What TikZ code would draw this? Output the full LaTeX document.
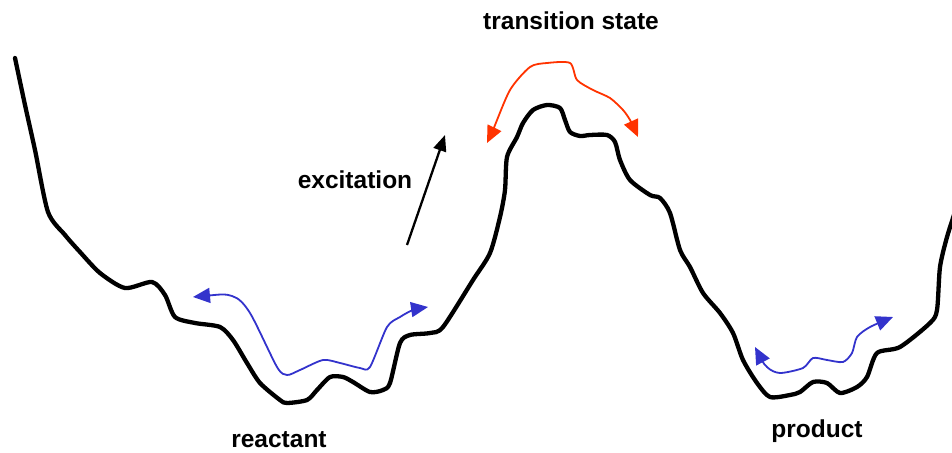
\documentclass[tikz,border=0pt]{standalone}
\usepackage{fontspec}
\setmainfont{Liberation Sans}
\usetikzlibrary{arrows.meta}
\definecolor{pathblue}{RGB}{51,51,204}
\definecolor{tsred}{RGB}{255,51,0}
\tikzset{
  surface/.style={line width=4.3pt, line join=round, line cap=round, black},
  motion/.style={line width=2pt, line join=round, {Triangle[length=17pt,width=15pt]}-{Triangle[length=17pt,width=15pt]}},
  label/.style={font=\fontsize{24.5pt}{28pt}\selectfont\bfseries, inner sep=0pt},
}
\begin{document}
\begin{tikzpicture}[x=1pt,y=-1pt]
\useasboundingbox (0,0) rectangle (952,452);
\clip (0,0) rectangle (952,452);
% potential energy surface
\draw[surface] plot[smooth, tension=0.45] coordinates {
  (15,58) (25,105) (35,150) (48,212) (65,235) (80,252) (100,273) (125,288)
  (152,282) (165,295) (175,317) (195,323) (220,327) (233,340) (247,363)
  (260,383) (280,400) (287,403) (307,400) (317,390) (330,377) (343,377)
  (353,382) (370,392) (383,390) (390,383) (400,343) (410,335) (430,333)
  (443,327) (473,280) (490,253) (500,217) (505,190) (507,157) (517,137)
  (523,123) (533,110) (547,105) (560,108) (565,120) (570,132) (580,136)
  (590,135) (607,135) (615,142) (620,160) (630,180) (650,195) (660,198)
  (670,213) (680,250) (690,267) (703,293) (720,313) (733,333) (743,360)
  (757,383) (770,397) (790,395) (800,392) (813,382) (827,383) (840,393)
  (857,387) (867,377) (877,353) (900,347) (930,323) (937,310) (940,267)
  (947,237) (955,212)};
% vibration in the reactant well
\draw[motion, pathblue, line width=1.8pt] plot[smooth, tension=0.45] coordinates {
  (193,297) (232,296) (250,313) (277,367) (287,375) (300,370) (323,360)
  (340,363) (360,368) (370,367) (387,327) (400,317) (413,310) (428,307)};
% vibration in the product well
\draw[motion, pathblue, line width=1.8pt] plot[smooth, tension=0.45] coordinates {
  (755,347) (767,367) (780,373) (803,368) (813,358) (827,360) (843,362)
  (852,353) (857,337) (870,327) (893,317)};
% motion across the barrier top
\draw[motion, tsred, line width=1.8pt] plot[smooth, tension=0.45] coordinates {
  (487,143) (493,130) (510,90) (530,67) (547,63) (570,63) (577,80)
  (593,90) (610,98) (623,110) (630,120) (638,137)};
% excitation arrow
\coordinate (excA) at (407,245);
\coordinate (excB) at (445,135);
\draw[line width=2.3pt, -{Triangle[length=16pt,width=13pt]}] (excA) -- (excB);
% labels
\node[label] (exc) at (355,180) {excitation};
\node[label] (ts) at (571,21) {transition state};
\node[label, anchor=base] (react) at (279,447) {reactant};
\node[label, anchor=base] (prod) at (817,437) {product};
\end{tikzpicture}
\end{document}
